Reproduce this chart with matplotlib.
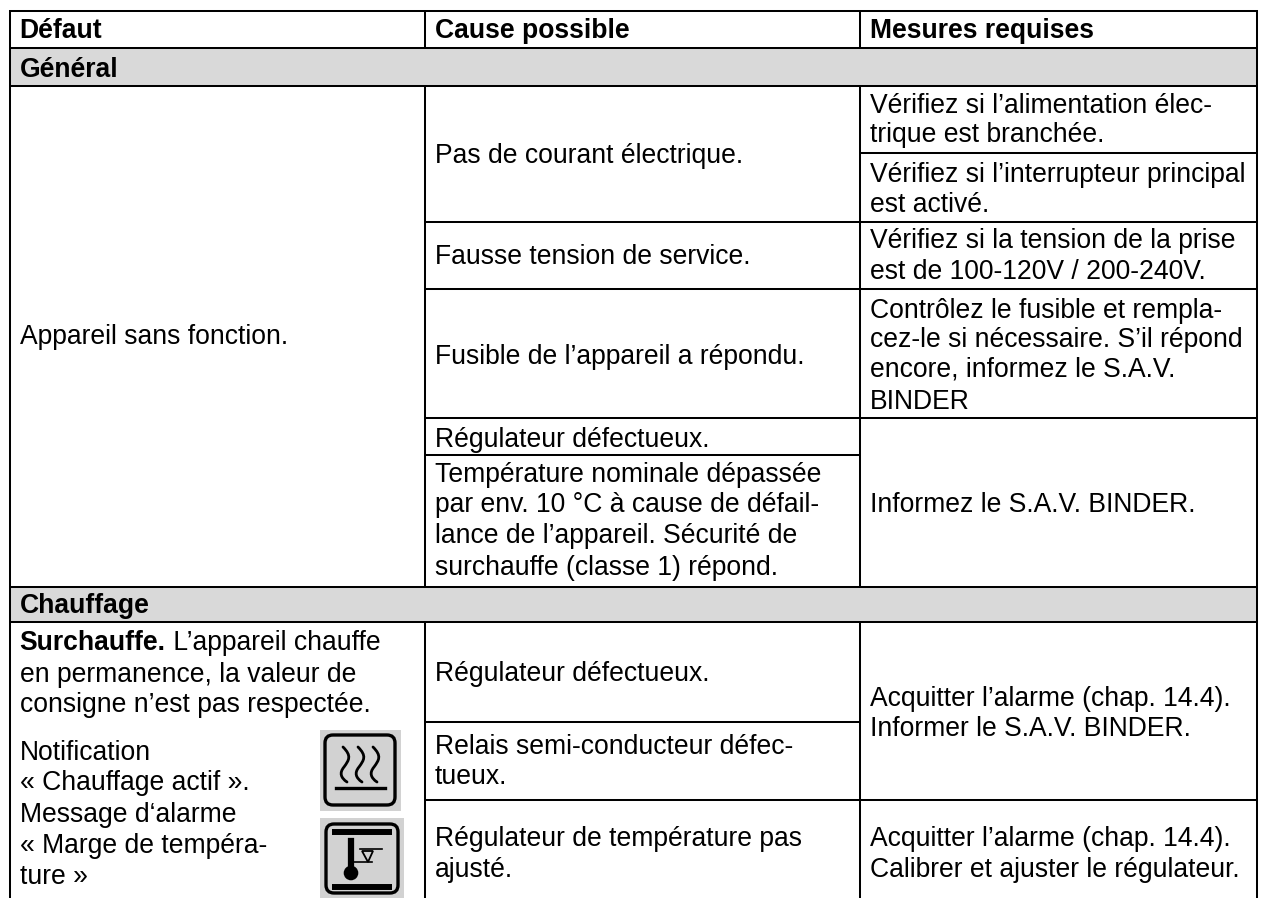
import matplotlib
matplotlib.use("Agg")
import matplotlib.pyplot as plt
from matplotlib.patches import Rectangle, FancyBboxPatch, Circle, Polygon, PathPatch
from matplotlib.path import Path

plt.rcParams['font.family'] = ['Liberation Sans', 'DejaVu Sans']
W, H = 1262, 898
FS = 19.1

headers = ["Défaut", "Cause possible", "Mesures requises"]
sections = ["Général", "Chauffage"]
col1_lines = [
    ("Appareil sans fonction.", 344),
    ("en permanence, la valeur de", 682),
    ("consigne n’est pas respectée.", 712),
    ("Notification", 760),
    ("« Chauffage actif ».", 790),
    ("Message d‘alarme", 822),
    ("« Marge de tempéra-", 853),
    ("ture »", 884),
]
col2_lines = [
    ("Pas de courant électrique.", 163),
    ("Fausse tension de service.", 264),
    ("Fusible de l’appareil a répondu.", 364),
    ("Régulateur défectueux.", 447),
    ("Température nominale dépassée", 482),
    ("par env. 10 °C à cause de défail-", 512),
    ("lance de l’appareil. Sécurité de", 543),
    ("surchauffe (classe 1) répond.", 575),
    ("Régulateur défectueux.", 681),
    ("Relais semi-conducteur défec-", 754),
    ("tueux.", 784),
    ("Régulateur de température pas", 846),
    ("ajusté.", 877),
]
col3_lines = [
    ("Vérifiez si l’alimentation élec-", 113),
    ("trique est branchée.", 142),
    ("Vérifiez si l’interrupteur principal", 182),
    ("est activé.", 212),
    ("Vérifiez si la tension de la prise", 248),
    ("est de 100-120V / 200-240V.", 279),
    ("Contrôlez le fusible et rempla-", 318),
    ("cez-le si nécessaire. S’il répond", 347),
    ("encore, informez le S.A.V.", 377),
    ("BINDER", 409),
    ("Informez le S.A.V. BINDER.", 512),
    ("Acquitter l’alarme (chap. 14.4).", 706),
    ("Informer le S.A.V. BINDER.", 736),
    ("Acquitter l’alarme (chap. 14.4).", 846),
    ("Calibrer et ajuster le régulateur.", 877),
]
bold_prefix = "Surchauffe."
bold_rest = " L’appareil chauffe"

fig = plt.figure(figsize=(W / 100, H / 100), dpi=100, facecolor="white")
ax = fig.add_axes([0, 0, 1, 1])
ax.set_xlim(0, W)
ax.set_ylim(H, 0)
ax.axis("off")

L, C1, C2, R = 10, 425, 860, 1257
TXT = [19.5, 435, 870]
LW = 1.45

for y0, y1 in [(48, 86), (587, 622)]:
    ax.add_patch(Rectangle((L, y0), R - L, y1 - y0, fc="#D9D9D9", ec="none", zorder=0))

def hl(y, a, b):
    ax.plot([a, b], [y, y], color="black", lw=LW, solid_capstyle="butt", zorder=2)
def vl(x, a, b):
    ax.plot([x, x], [a, b], color="black", lw=LW, solid_capstyle="butt", zorder=2)

hl(11, L - 1, R + 1); hl(48, L, R); hl(86, L, R); hl(587, L, R); hl(622, L, R)
vl(L, 10, H); vl(R, 10, H)
for x in (C1, C2):
    vl(x, 11, 48); vl(x, 86, 587); vl(x, 622, H)
hl(153, C2, R)
hl(222, C1, R)
hl(289, C1, R)
hl(418, C1, R); hl(455, C1, C2)
hl(722, C1, C2); hl(800, C1, R)

for x, s in zip(TXT, headers):
    ax.text(x, 38, s, fontsize=FS, fontweight="bold", va="baseline")
ax.text(TXT[0], 77, sections[0], fontsize=FS, fontweight="bold", va="baseline")
ax.text(TXT[0], 613, sections[1], fontsize=FS, fontweight="bold", va="baseline")

b = ax.text(TXT[0], 650, bold_prefix, fontsize=FS, fontweight="bold", va="baseline")
fig.canvas.draw()
bb = b.get_window_extent()
ax.text(bb.x1, 650, bold_rest, fontsize=FS, va="baseline")

for x, lines in zip(TXT, (col1_lines, col2_lines, col3_lines)):
    for s, y in lines:
        ax.text(x, y, s, fontsize=FS, va="baseline")

# icon 1: heating
ax.add_patch(Rectangle((320, 730), 81, 81, fc="#D2D2D2", ec="none", zorder=1))
ax.add_patch(FancyBboxPatch((325, 735), 70, 70, boxstyle="round,pad=0,rounding_size=8",
                            fc="none", ec="black", lw=2.4, zorder=3))
for dx in (345, 360, 375):
    p = Path([(dx - 2, 747), (dx + 7, 756), (dx + 4, 760), (dx - 1, 767),
              (dx - 6, 773), (dx - 4, 778), (dx + 2, 782)],
             [Path.MOVETO] + [Path.CURVE4] * 6)
    ax.add_patch(PathPatch(p, fc="none", ec="black", lw=2.0, capstyle="round", zorder=3))
ax.plot([336, 385], [788, 788], color="black", lw=2.4, zorder=3)

# icon 2: temperature margin
ax.add_patch(Rectangle((320, 818), 84, 80, fc="#D2D2D2", ec="none", zorder=1))
ax.add_patch(FancyBboxPatch((326, 824), 72, 69, boxstyle="round,pad=0,rounding_size=8",
                            fc="none", ec="black", lw=2.4, zorder=3))
ax.plot([332, 392], [832, 832], color="black", lw=4.3, solid_capstyle="butt", zorder=3)
ax.plot([332, 392], [887, 887], color="black", lw=4.3, solid_capstyle="butt", zorder=3)
ax.plot([351, 351], [841, 870], color="black", lw=4.5, zorder=3)
ax.add_patch(Circle((351, 873), 7.3, fc="black", ec="none", zorder=3))
ax.plot([351, 372], [862, 862], color="black", lw=1.2, zorder=3)
ax.add_patch(Polygon([(362, 851), (373, 851), (368, 862)], fc="none", ec="black", lw=1.3, zorder=3))
ax.plot([360, 382], [849, 849], color="black", lw=1.2, zorder=3)

fig.savefig("out.png", dpi=100)
